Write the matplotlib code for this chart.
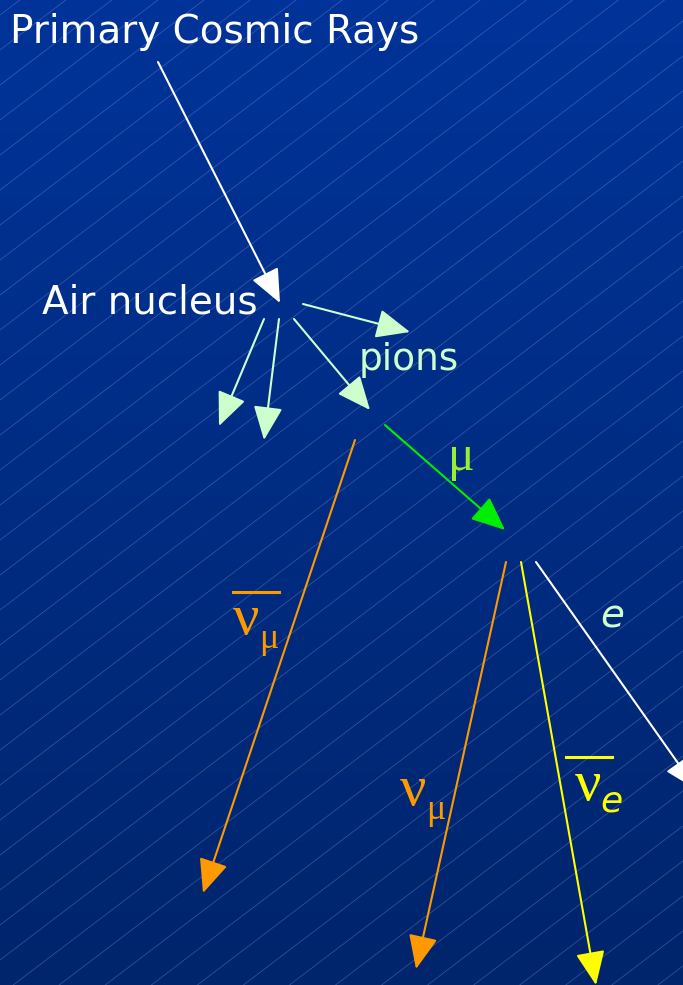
import numpy as np
import matplotlib.pyplot as plt

W, H = 683, 985

# arrows: tail (x, y) -> head (x, y), in picture pixels, y downwards
arrow_names = ["primary", "pion1", "pion2", "pion3", "pion4", "muon",
               "anti_nu_mu", "nu_mu", "anti_nu_e", "electron"]
tail_x = [158, 264, 279, 294, 303, 385, 355, 506, 521, 536]
tail_y = [62, 319, 319, 319, 304, 425, 440, 562, 562, 562]
head_x = [280, 219, 264, 370, 410, 505, 203, 416, 596, 697]
head_y = [303, 426, 440, 410, 332, 530, 893, 969, 985, 790]
arrow_colors = ["white", "#ccffcc", "#ccffcc", "#ccffcc", "#ccffcc", "#00ee00",
                "#ff9900", "#ff9900", "#ffff00", "white"]

fig = plt.figure(figsize=(W / 100, H / 100), dpi=100)
ax = fig.add_axes([0, 0, 1, 1])
ax.set_xlim(0, W)
ax.set_ylim(H, 0)
ax.axis("off")

# background gradient
top = np.array([0x00, 0x33, 0x99]) / 255
bot = np.array([0x00, 0x25, 0x6c]) / 255
t = np.linspace(0, 1, 200)[:, None, None]
grad = top * (1 - t) + bot * t
grad = np.repeat(grad, 2, axis=1)
ax.imshow(grad, extent=[0, W, H, 0], aspect="auto", zorder=0)

# faint diagonal hatch lines
xs = np.array([0, W])
for c in np.arange(-20, H + 0.76 * W + 40, 35):
    ax.plot(xs, c - 0.76 * xs, color="#8aa6dd", lw=0.5, alpha=0.4, zorder=1)

for i in range(len(arrow_names)):
    ax.annotate("", xy=(head_x[i], head_y[i]), xytext=(tail_x[i], tail_y[i]),
                arrowprops=dict(arrowstyle="-|>,head_length=1.5,head_width=0.65",
                                color=arrow_colors[i], lw=1.5,
                                shrinkA=0, shrinkB=0, mutation_scale=14),
                annotation_clip=False, zorder=3)

sans = "DejaVu Sans"
serif = "Liberation Serif"
ax.text(10, 43, "Primary Cosmic Rays", color="white", fontsize=28, family=sans,
        va="baseline", ha="left")
ax.text(42, 313, "Air nucleus", color="white", fontsize=28, family=sans,
        va="baseline", ha="left")
ax.text(359, 370, "pions", color="#ccffcc", fontsize=27, family=sans,
        va="baseline", ha="left")
ax.text(600, 628, "e", color="#ccffcc", fontsize=28, family=sans,
        va="baseline", ha="left", style="italic")
ax.text(448, 470, "μ", color="#99ee33", fontsize=36, family=serif,
        va="baseline", ha="left")

# anti nu_mu
ax.text(233, 634, "ν", color="#ff9900", fontsize=42, family=serif, va="baseline")
ax.text(259, 648, "μ", color="#ff9900", fontsize=26, family=serif, va="baseline")
ax.plot([233, 279], [592, 592], color="#ff9900", lw=2.2)
# nu_mu
ax.text(400, 805, "ν", color="#ff9900", fontsize=42, family=serif, va="baseline")
ax.text(426, 819, "μ", color="#ff9900", fontsize=26, family=serif, va="baseline")
# anti nu_e
ax.text(575, 800, "ν", color="#ffff00", fontsize=42, family=serif, va="baseline")
ax.text(600, 811, "e", color="#ffff00", fontsize=26, family=sans, va="baseline",
        style="italic")
ax.plot([566, 612], [757, 757], color="#ffff00", lw=2.2)

fig.savefig("out.png", dpi=100)
